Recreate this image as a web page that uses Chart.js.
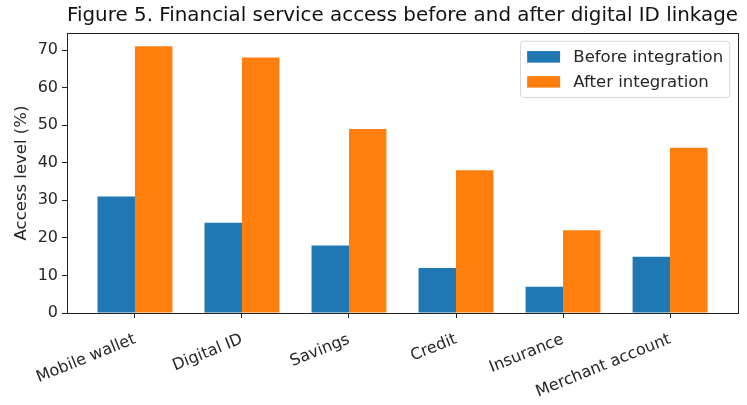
<!DOCTYPE html>
<html>
<head>
<meta charset="utf-8">
<script src="https://cdn.jsdelivr.net/npm/chart.js@4.4.1/dist/chart.umd.min.js"></script>
<style>
  html, body { margin: 0; padding: 0; background: #ffffff; }
  #wrap { width: 747px; height: 405px; }
</style>
</head>
<body>
<div id="wrap"><canvas id="chart" width="747" height="405"></canvas></div>
<script>
// Access level (%) per financial service, before and after digital ID linkage
const categories = ['Mobile wallet', 'Digital ID', 'Savings', 'Credit', 'Insurance', 'Merchant account'];
const beforeValues = [31, 24, 18, 12, 7, 15];
const afterValues = [71, 68, 49, 38, 22, 44];
const seriesNames = ['Before integration', 'After integration'];
const yTickValues = [0, 10, 20, 30, 40, 50, 60, 70];

const FONT = "'DejaVu Sans', 'Liberation Sans', sans-serif";
const INK = '#262626';

// Axis limits in the usual 5% margin style
const xMin = -0.35 - 0.05 * 5.7;
const xMax = (categories.length - 1) + 0.35 + 0.05 * 5.7;
const yMax = Math.max(...afterValues, ...beforeValues) * 1.05;

// Box around the plot area
const frame = {
  id: 'frame',
  afterDatasetsDraw(chart) {
    const { ctx, chartArea: a } = chart;
    ctx.save();
    ctx.strokeStyle = '#222222';
    ctx.lineWidth = 1;
    ctx.strokeRect(Math.round(a.left) + 0.5, Math.round(a.top) + 0.5,
                   Math.round(a.right - a.left), Math.round(a.bottom - a.top));
    ctx.restore();
  }
};

// Legend drawn inside the plot, upper right
const innerLegend = {
  id: 'innerLegend',
  afterDraw(chart) {
    const { ctx, chartArea: a } = chart;
    const fs = 16.5;
    const sets = chart.data.datasets;
    ctx.save();
    ctx.font = fs + 'px ' + FONT;
    const textW = Math.max(...sets.map(d => ctx.measureText(d.label).width));
    const pad = 0.4 * fs, handleW = 2 * fs, handleH = 0.7 * fs, gap = 0.8 * fs;
    const rowH = 25, textH = 18;
    const w = pad + handleW + gap + textW + pad;
    const h = 2 * pad + textH + rowH * (sets.length - 1);
    const right = a.right - 0.5 * fs;
    const top = a.top + 0.5 * fs;
    const left = right - w;
    // frame
    const r = 3;
    ctx.beginPath();
    ctx.moveTo(left + r, top);
    ctx.arcTo(right, top, right, top + h, r);
    ctx.arcTo(right, top + h, left, top + h, r);
    ctx.arcTo(left, top + h, left, top, r);
    ctx.arcTo(left, top, right, top, r);
    ctx.closePath();
    ctx.fillStyle = 'rgba(255,255,255,0.8)';
    ctx.fill();
    ctx.strokeStyle = '#d6d6d6';
    ctx.lineWidth = 1;
    ctx.stroke();
    // entries
    ctx.textBaseline = 'middle';
    ctx.textAlign = 'left';
    sets.forEach((d, i) => {
      const cy = top + pad + textH / 2 + i * rowH;
      ctx.fillStyle = d.backgroundColor;
      ctx.fillRect(left + pad, cy - handleH / 2, handleW, handleH);
      ctx.fillStyle = INK;
      ctx.fillText(d.label, left + pad + handleW + gap, cy + 1);
    });
    ctx.restore();
  }
};

const toPoints = vals => vals.map((v, i) => ({ x: i, y: v }));

new Chart(document.getElementById('chart'), {
  type: 'bar',
  data: {
    datasets: [
      { label: seriesNames[0], data: toPoints(beforeValues), backgroundColor: '#1f77b4', borderWidth: 0 },
      { label: seriesNames[1], data: toPoints(afterValues), backgroundColor: '#ff7f0e', borderWidth: 0 }
    ]
  },
  options: {
    responsive: false,
    animation: false,
    devicePixelRatio: 1,
    layout: { padding: { left: 0, right: 9, top: 0, bottom: 0 } },
    datasets: { bar: { categoryPercentage: 0.7, barPercentage: 1.0 } },
    plugins: {
      legend: { display: false },
      tooltip: { enabled: false },
      title: {
        display: true,
        fullSize: false,
        text: 'Figure 5. Financial service access before and after digital ID linkage',
        color: '#111111',
        font: { family: FONT, size: 20, weight: 'normal', lineHeight: 1.2 },
        padding: { top: 4, bottom: 5 }
      }
    },
    scales: {
      x: {
        type: 'linear',
        min: xMin,
        max: xMax,
        offset: false,
        afterBuildTicks: s => { s.ticks = categories.map((_, i) => ({ value: i })); },
        afterFit: s => { s.height = 92; },
        grid: { display: true, offset: false, drawOnChartArea: false, drawTicks: true, tickLength: 5, tickColor: '#222222' },
        border: { display: false },
        ticks: {
          autoSkip: false,
          minRotation: 22,
          maxRotation: 22,
          padding: 12,
          color: INK,
          font: { family: FONT, size: 16 },
          callback: v => categories[v]
        }
      },
      y: {
        min: 0,
        max: yMax,
        afterBuildTicks: s => { s.ticks = yTickValues.map(v => ({ value: v })); },
        afterFit: s => { s.width = 67; },
        grid: { display: true, drawOnChartArea: false, drawTicks: true, tickLength: 5, tickColor: '#222222' },
        border: { display: false },
        ticks: { padding: 4, color: INK, font: { family: FONT, size: 16 } },
        title: {
          display: true,
          text: 'Access level (%)',
          color: INK,
          font: { family: FONT, size: 16.5 },
          padding: { top: 12, bottom: 0 }
        }
      }
    }
  },
  plugins: [frame, innerLegend]
});
</script>
</body>
</html>
